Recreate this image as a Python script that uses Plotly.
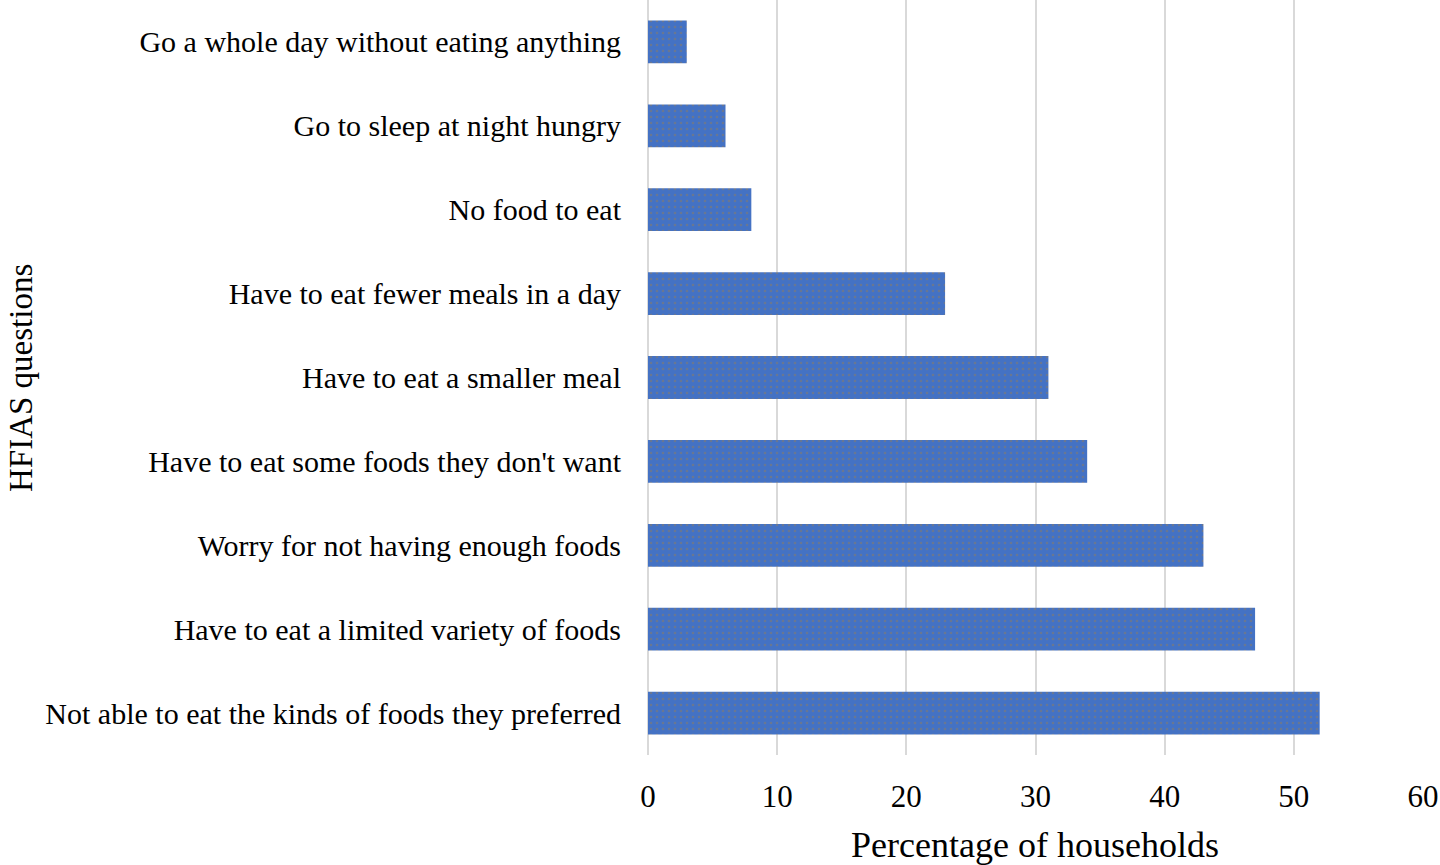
import plotly.graph_objects as go

categories = [
    "Not able to eat the kinds of foods they preferred",
    "Have to eat a limited variety of foods",
    "Worry for not having enough foods",
    "Have to eat some foods they don't want",
    "Have to eat a smaller meal",
    "Have to eat fewer meals in a day",
    "No food to eat",
    "Go to sleep at night hungry",
    "Go a whole day without eating anything",
]
values = [52, 47, 43, 34, 31, 23, 8, 6, 3]
x_ticks = [0, 10, 20, 30, 40, 50, 60]

FONT = "Liberation Serif, Times New Roman, serif"

W, H = 1440, 865
ML, MR, MT, MB = 648, 17, 0, 110
PW, PH = W - ML - MR, H - MT - MB

fig = go.Figure(
    go.Bar(
        x=values,
        y=categories,
        orientation="h",
        marker=dict(
            color="#4472C4",
            line=dict(width=0),
            pattern=dict(shape=".", fgcolor="#8c7b62", bgcolor="#4472C4",
                         size=6, solidity=0.15),
        ),
        hoverinfo="x+y",
    )
)

fig.update_layout(
    width=W,
    height=H,
    paper_bgcolor="white",
    plot_bgcolor="white",
    margin=dict(l=ML, r=MR, t=MT, b=MB, autoexpand=False),
    bargap=0.49,
    showlegend=False,
    font=dict(family=FONT, color="black"),
    xaxis=dict(
        range=[0, 60],
        tickvals=x_ticks,
        ticktext=[str(v) for v in x_ticks],
        showgrid=True,
        gridcolor="#d9d9d9",
        gridwidth=2,
        zeroline=True,
        zerolinecolor="#d9d9d9",
        zerolinewidth=2,
        showline=False,
        ticks="outside",
        ticklen=14,
        tickcolor="rgba(0,0,0,0)",
        tickfont=dict(family=FONT, size=31, color="black"),
        automargin=False,
        fixedrange=True,
    ),
    yaxis=dict(
        categoryorder="array",
        categoryarray=categories,
        showgrid=False,
        zeroline=False,
        showline=False,
        ticks="outside",
        ticklen=20,
        tickcolor="rgba(0,0,0,0)",
        tickfont=dict(family=FONT, size=30, color="black"),
        automargin=False,
        fixedrange=True,
    ),
)


def px_to_paper(px, py):
    return (px - ML) / PW, (H - MB - py) / PH


ax, ay = px_to_paper(1035, 845)
bx, by = px_to_paper(21, 378)
fig.add_annotation(text="Percentage of households", x=ax, y=ay, xref="paper",
                   yref="paper", showarrow=False, xanchor="center",
                   yanchor="middle",
                   font=dict(family=FONT, size=36, color="black"))
fig.add_annotation(text="HFIAS questions", x=bx, y=by, xref="paper",
                   yref="paper", showarrow=False, textangle=-90,
                   xanchor="center", yanchor="middle",
                   font=dict(family=FONT, size=33, color="black"))

fig.write_html(
    "out.html",
    config={"displayModeBar": False},
    post_script="document.body.style.margin='0';document.body.style.padding='0';",
)
